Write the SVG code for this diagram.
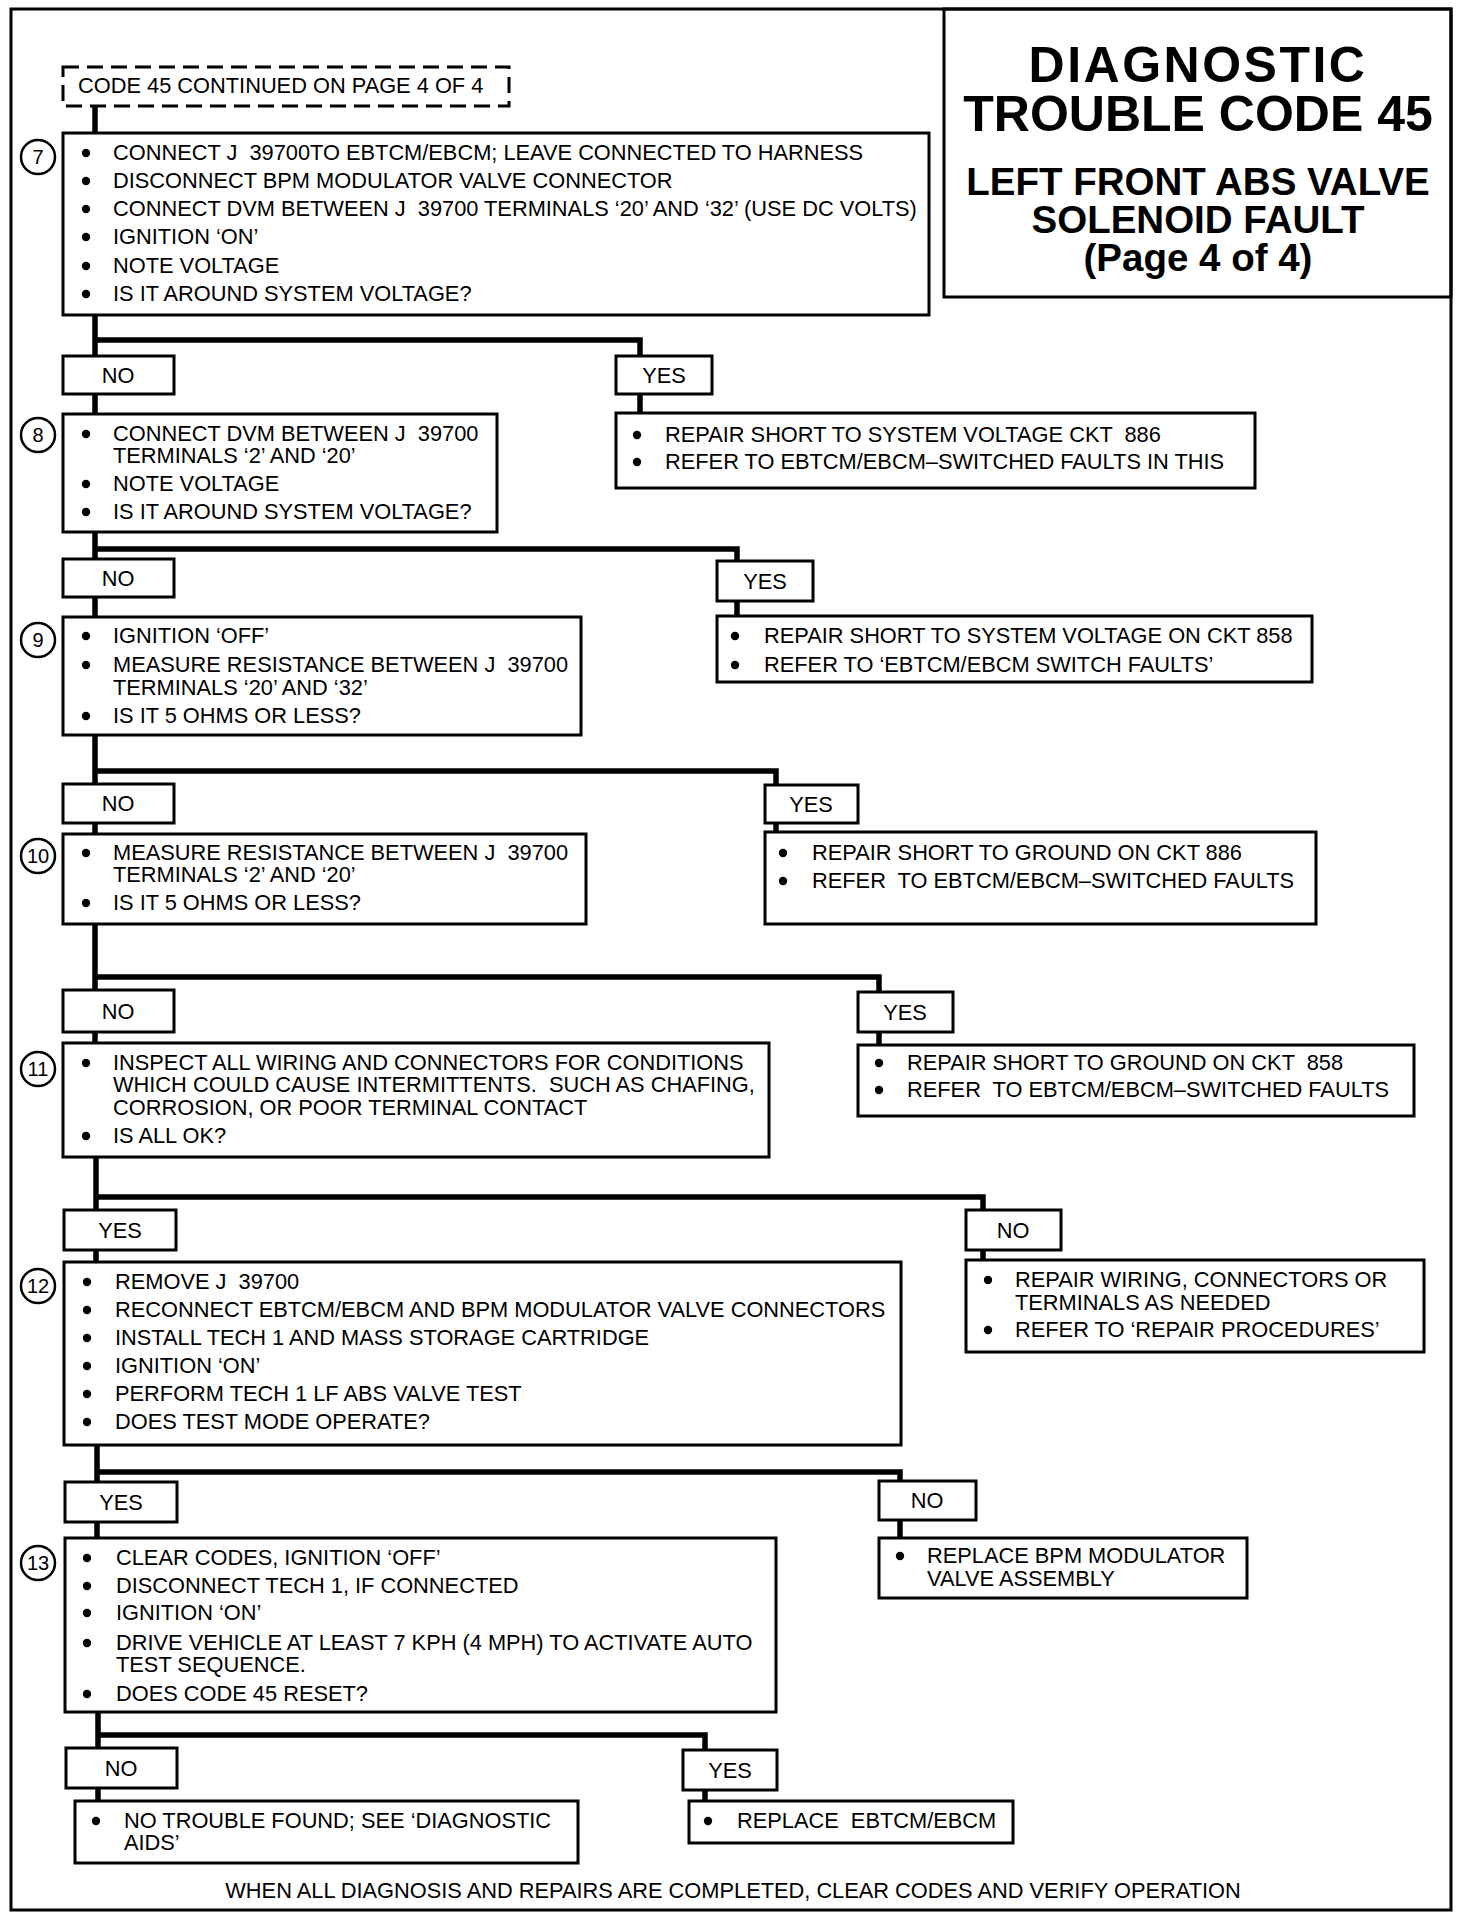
<svg xmlns="http://www.w3.org/2000/svg" width="1472" height="1922" viewBox="0 0 1472 1922">
<style>
.bg{fill:#fff}
.frame{fill:none;stroke:#000;stroke-width:3}
.box{fill:#fff;stroke:#000;stroke-width:3}
.dash{fill:#fff;stroke:#000;stroke-width:3;stroke-dasharray:16 8}
.conn{fill:none;stroke:#000;stroke-width:5.5;stroke-linejoin:miter}
.t{font-family:"Liberation Sans",Arial,sans-serif;font-size:21.8px;fill:#000;white-space:pre}
.c{text-anchor:middle}
.ti{font-family:"Liberation Sans",Arial,sans-serif;font-weight:bold;fill:#000;text-anchor:middle}
.num{fill:#fff;stroke:#000;stroke-width:2.5}
.nt{font-family:"Liberation Sans",Arial,sans-serif;font-size:20px;fill:#000;text-anchor:middle}
.dot{fill:#000}
</style>
<rect class="bg" x="0" y="0" width="1472" height="1922"/>
<rect class="frame" x="11" y="9" width="1440" height="1901"/>

<g id="title">
<rect class="frame" x="944" y="9" width="507" height="288"/>
<text class="ti" x="1198" y="82" font-size="50" letter-spacing="2.5">DIAGNOSTIC</text>
<text class="ti" x="1198" y="131" font-size="50">TROUBLE CODE 45</text>
<text class="ti" x="1198" y="195" font-size="38.5">LEFT FRONT ABS VALVE</text>
<text class="ti" x="1198" y="233" font-size="38.5">SOLENOID FAULT</text>
<text class="ti" x="1198" y="271" font-size="38.5">(Page 4 of 4)</text>
</g>

<g id="connectors">
<path class="conn" d="M95,106 V133"/>
<path class="conn" d="M95,315 V356 M95,340 H640 V356 M95,394 V414 M640,394 V413"/>
<path class="conn" d="M95,532 V559 M95,549 H737 V561 M95,597 V617 M737,601 V616"/>
<path class="conn" d="M95,735 V784 M95,771 H776 V785 M95,823 V834 M776,823 V832"/>
<path class="conn" d="M95,924 V990 M95,977 H879 V992 M95,1032 V1043 M879,1032 V1045"/>
<path class="conn" d="M96,1157 V1210 M96,1197 H983 V1210 M96,1250 V1262 M983,1250 V1260"/>
<path class="conn" d="M97,1445 V1482 M97,1472 H900 V1481 M97,1522 V1538 M900,1520 V1538"/>
<path class="conn" d="M98,1712 V1748 M98,1735 H705 V1750 M98,1788 V1801 M705,1790 V1801"/>
</g>

<g id="start">
<rect class="dash" x="63" y="67" width="446" height="39"/>
<text class="t" x="78" y="93" font-size="22.3">CODE 45 CONTINUED ON PAGE 4 OF 4</text>
</g>

<g id="step7">
<rect class="box" x="63" y="133" width="866" height="182"/>
<circle class="num" cx="38" cy="157" r="17"/><text class="nt" x="38" y="164">7</text>
<circle class="dot" cx="86" cy="153" r="4.2"/><text class="t" x="113" y="160">CONNECT J  39700TO EBTCM/EBCM; LEAVE CONNECTED TO HARNESS</text>
<circle class="dot" cx="86" cy="181" r="4.2"/><text class="t" x="113" y="188">DISCONNECT BPM MODULATOR VALVE CONNECTOR</text>
<circle class="dot" cx="86" cy="209" r="4.2"/><text class="t" x="113" y="216">CONNECT DVM BETWEEN J  39700 TERMINALS ‘20’ AND ‘32’ (USE DC VOLTS)</text>
<circle class="dot" cx="86" cy="237" r="4.2"/><text class="t" x="113" y="244">IGNITION ‘ON’</text>
<circle class="dot" cx="86" cy="266" r="4.2"/><text class="t" x="113" y="273">NOTE VOLTAGE</text>
<circle class="dot" cx="86" cy="294" r="4.2"/><text class="t" x="113" y="301">IS IT AROUND SYSTEM VOLTAGE?</text>
</g>

<g id="no1"><rect class="box" x="63" y="356" width="111" height="38"/><text class="t c" x="118" y="383">NO</text></g>
<g id="yes1"><rect class="box" x="616" y="356" width="96" height="38"/><text class="t c" x="664" y="383">YES</text></g>

<g id="repair886v">
<rect class="box" x="616" y="413" width="639" height="75"/>
<circle class="dot" cx="637" cy="435" r="4.2"/><text class="t" x="665" y="442">REPAIR SHORT TO SYSTEM VOLTAGE CKT  886</text>
<circle class="dot" cx="637" cy="462" r="4.2"/><text class="t" x="665" y="469">REFER TO EBTCM/EBCM–SWITCHED FAULTS IN THIS</text>
</g>

<g id="step8">
<rect class="box" x="63" y="414" width="434" height="118"/>
<circle class="num" cx="38" cy="435" r="17"/><text class="nt" x="38" y="442">8</text>
<circle class="dot" cx="86" cy="434" r="4.2"/><text class="t" x="113" y="441">CONNECT DVM BETWEEN J  39700</text>
<text class="t" x="113" y="463">TERMINALS ‘2’ AND ‘20’</text>
<circle class="dot" cx="86" cy="484" r="4.2"/><text class="t" x="113" y="491">NOTE VOLTAGE</text>
<circle class="dot" cx="86" cy="512" r="4.2"/><text class="t" x="113" y="519">IS IT AROUND SYSTEM VOLTAGE?</text>
</g>

<g id="no2"><rect class="box" x="63" y="559" width="111" height="38"/><text class="t c" x="118" y="586">NO</text></g>
<g id="yes2"><rect class="box" x="717" y="561" width="96" height="40"/><text class="t c" x="765" y="589">YES</text></g>

<g id="repair858v">
<rect class="box" x="717" y="616" width="595" height="66"/>
<circle class="dot" cx="735" cy="636" r="4.2"/><text class="t" x="764" y="643">REPAIR SHORT TO SYSTEM VOLTAGE ON CKT 858</text>
<circle class="dot" cx="735" cy="665" r="4.2"/><text class="t" x="764" y="672">REFER TO ‘EBTCM/EBCM SWITCH FAULTS’</text>
</g>

<g id="step9">
<rect class="box" x="63" y="617" width="518" height="118"/>
<circle class="num" cx="38" cy="640" r="17"/><text class="nt" x="38" y="647">9</text>
<circle class="dot" cx="86" cy="636" r="4.2"/><text class="t" x="113" y="643">IGNITION ‘OFF’</text>
<circle class="dot" cx="86" cy="665" r="4.2"/><text class="t" x="113" y="672">MEASURE RESISTANCE BETWEEN J  39700</text>
<text class="t" x="113" y="695">TERMINALS ‘20’ AND ‘32’</text>
<circle class="dot" cx="86" cy="716" r="4.2"/><text class="t" x="113" y="723">IS IT 5 OHMS OR LESS?</text>
</g>

<g id="no3"><rect class="box" x="63" y="784" width="111" height="39"/><text class="t c" x="118" y="811">NO</text></g>
<g id="yes3"><rect class="box" x="765" y="785" width="93" height="38"/><text class="t c" x="811" y="812">YES</text></g>

<g id="repair886g">
<rect class="box" x="765" y="832" width="551" height="92"/>
<circle class="dot" cx="783" cy="853" r="4.2"/><text class="t" x="812" y="860">REPAIR SHORT TO GROUND ON CKT 886</text>
<circle class="dot" cx="783" cy="881" r="4.2"/><text class="t" x="812" y="888">REFER  TO EBTCM/EBCM–SWITCHED FAULTS</text>
</g>

<g id="step10">
<rect class="box" x="63" y="834" width="523" height="90"/>
<circle class="num" cx="38" cy="856" r="17"/><text class="nt" x="38" y="863" font-size="18">10</text>
<circle class="dot" cx="86" cy="853" r="4.2"/><text class="t" x="113" y="860">MEASURE RESISTANCE BETWEEN J  39700</text>
<text class="t" x="113" y="882">TERMINALS ‘2’ AND ‘20’</text>
<circle class="dot" cx="86" cy="903" r="4.2"/><text class="t" x="113" y="910">IS IT 5 OHMS OR LESS?</text>
</g>

<g id="no4"><rect class="box" x="63" y="990" width="111" height="42"/><text class="t c" x="118" y="1019">NO</text></g>
<g id="yes4"><rect class="box" x="858" y="992" width="95" height="40"/><text class="t c" x="905" y="1020">YES</text></g>

<g id="repair858g">
<rect class="box" x="858" y="1045" width="556" height="71"/>
<circle class="dot" cx="879" cy="1063" r="4.2"/><text class="t" x="907" y="1070">REPAIR SHORT TO GROUND ON CKT  858</text>
<circle class="dot" cx="879" cy="1090" r="4.2"/><text class="t" x="907" y="1097">REFER  TO EBTCM/EBCM–SWITCHED FAULTS</text>
</g>

<g id="step11">
<rect class="box" x="63" y="1043" width="706" height="114"/>
<circle class="num" cx="38" cy="1069" r="17"/><text class="nt" x="38" y="1076" font-size="18">11</text>
<circle class="dot" cx="86" cy="1063" r="4.2"/><text class="t" x="113" y="1070">INSPECT ALL WIRING AND CONNECTORS FOR CONDITIONS</text>
<text class="t" x="113" y="1092">WHICH COULD CAUSE INTERMITTENTS.  SUCH AS CHAFING,</text>
<text class="t" x="113" y="1115">CORROSION, OR POOR TERMINAL CONTACT</text>
<circle class="dot" cx="86" cy="1136" r="4.2"/><text class="t" x="113" y="1143">IS ALL OK?</text>
</g>

<g id="yes5"><rect class="box" x="64" y="1210" width="112" height="40"/><text class="t c" x="120" y="1238">YES</text></g>
<g id="no5"><rect class="box" x="966" y="1210" width="95" height="40"/><text class="t c" x="1013" y="1238">NO</text></g>

<g id="repairwiring">
<rect class="box" x="966" y="1260" width="458" height="92"/>
<circle class="dot" cx="988" cy="1280" r="4.2"/><text class="t" x="1015" y="1287">REPAIR WIRING, CONNECTORS OR</text>
<text class="t" x="1015" y="1310">TERMINALS AS NEEDED</text>
<circle class="dot" cx="988" cy="1330" r="4.2"/><text class="t" x="1015" y="1337">REFER TO ‘REPAIR PROCEDURES’</text>
</g>

<g id="step12">
<rect class="box" x="64" y="1262" width="837" height="183"/>
<circle class="num" cx="38" cy="1286" r="17"/><text class="nt" x="38" y="1293" font-size="18">12</text>
<circle class="dot" cx="87" cy="1282" r="4.2"/><text class="t" x="115" y="1289">REMOVE J  39700</text>
<circle class="dot" cx="87" cy="1310" r="4.2"/><text class="t" x="115" y="1317">RECONNECT EBTCM/EBCM AND BPM MODULATOR VALVE CONNECTORS</text>
<circle class="dot" cx="87" cy="1338" r="4.2"/><text class="t" x="115" y="1345">INSTALL TECH 1 AND MASS STORAGE CARTRIDGE</text>
<circle class="dot" cx="87" cy="1366" r="4.2"/><text class="t" x="115" y="1373">IGNITION ‘ON’</text>
<circle class="dot" cx="87" cy="1394" r="4.2"/><text class="t" x="115" y="1401">PERFORM TECH 1 LF ABS VALVE TEST</text>
<circle class="dot" cx="87" cy="1422" r="4.2"/><text class="t" x="115" y="1429">DOES TEST MODE OPERATE?</text>
</g>

<g id="yes6"><rect class="box" x="65" y="1482" width="112" height="40"/><text class="t c" x="121" y="1510">YES</text></g>
<g id="no6"><rect class="box" x="879" y="1481" width="97" height="39"/><text class="t c" x="927" y="1508">NO</text></g>

<g id="replacebpm">
<rect class="box" x="879" y="1538" width="368" height="60"/>
<circle class="dot" cx="900" cy="1556" r="4.2"/><text class="t" x="927" y="1563">REPLACE BPM MODULATOR</text>
<text class="t" x="927" y="1586">VALVE ASSEMBLY</text>
</g>

<g id="step13">
<rect class="box" x="65" y="1538" width="711" height="174"/>
<circle class="num" cx="38" cy="1563" r="17"/><text class="nt" x="38" y="1570" font-size="18">13</text>
<circle class="dot" cx="87" cy="1558" r="4.2"/><text class="t" x="116" y="1565">CLEAR CODES, IGNITION ‘OFF’</text>
<circle class="dot" cx="87" cy="1586" r="4.2"/><text class="t" x="116" y="1593">DISCONNECT TECH 1, IF CONNECTED</text>
<circle class="dot" cx="87" cy="1613" r="4.2"/><text class="t" x="116" y="1620">IGNITION ‘ON’</text>
<circle class="dot" cx="87" cy="1643" r="4.2"/><text class="t" x="116" y="1650">DRIVE VEHICLE AT LEAST 7 KPH (4 MPH) TO ACTIVATE AUTO</text>
<text class="t" x="116" y="1672">TEST SEQUENCE.</text>
<circle class="dot" cx="87" cy="1694" r="4.2"/><text class="t" x="116" y="1701">DOES CODE 45 RESET?</text>
</g>

<g id="no7"><rect class="box" x="66" y="1748" width="111" height="40"/><text class="t c" x="121" y="1776">NO</text></g>
<g id="yes7"><rect class="box" x="683" y="1750" width="94" height="40"/><text class="t c" x="730" y="1778">YES</text></g>

<g id="ntf">
<rect class="box" x="75" y="1801" width="503" height="62"/>
<circle class="dot" cx="96" cy="1821" r="4.2"/><text class="t" x="124" y="1828">NO TROUBLE FOUND; SEE ‘DIAGNOSTIC</text>
<text class="t" x="124" y="1850">AIDS’</text>
</g>

<g id="replaceebtcm">
<rect class="box" x="689" y="1801" width="324" height="42"/>
<circle class="dot" cx="708" cy="1821" r="4.2"/><text class="t" x="737" y="1828">REPLACE  EBTCM/EBCM</text>
</g>

<g id="footer">
<text class="t c" x="733" y="1898" font-size="21.6">WHEN ALL DIAGNOSIS AND REPAIRS ARE COMPLETED, CLEAR CODES AND VERIFY OPERATION</text>
</g>
</svg>
